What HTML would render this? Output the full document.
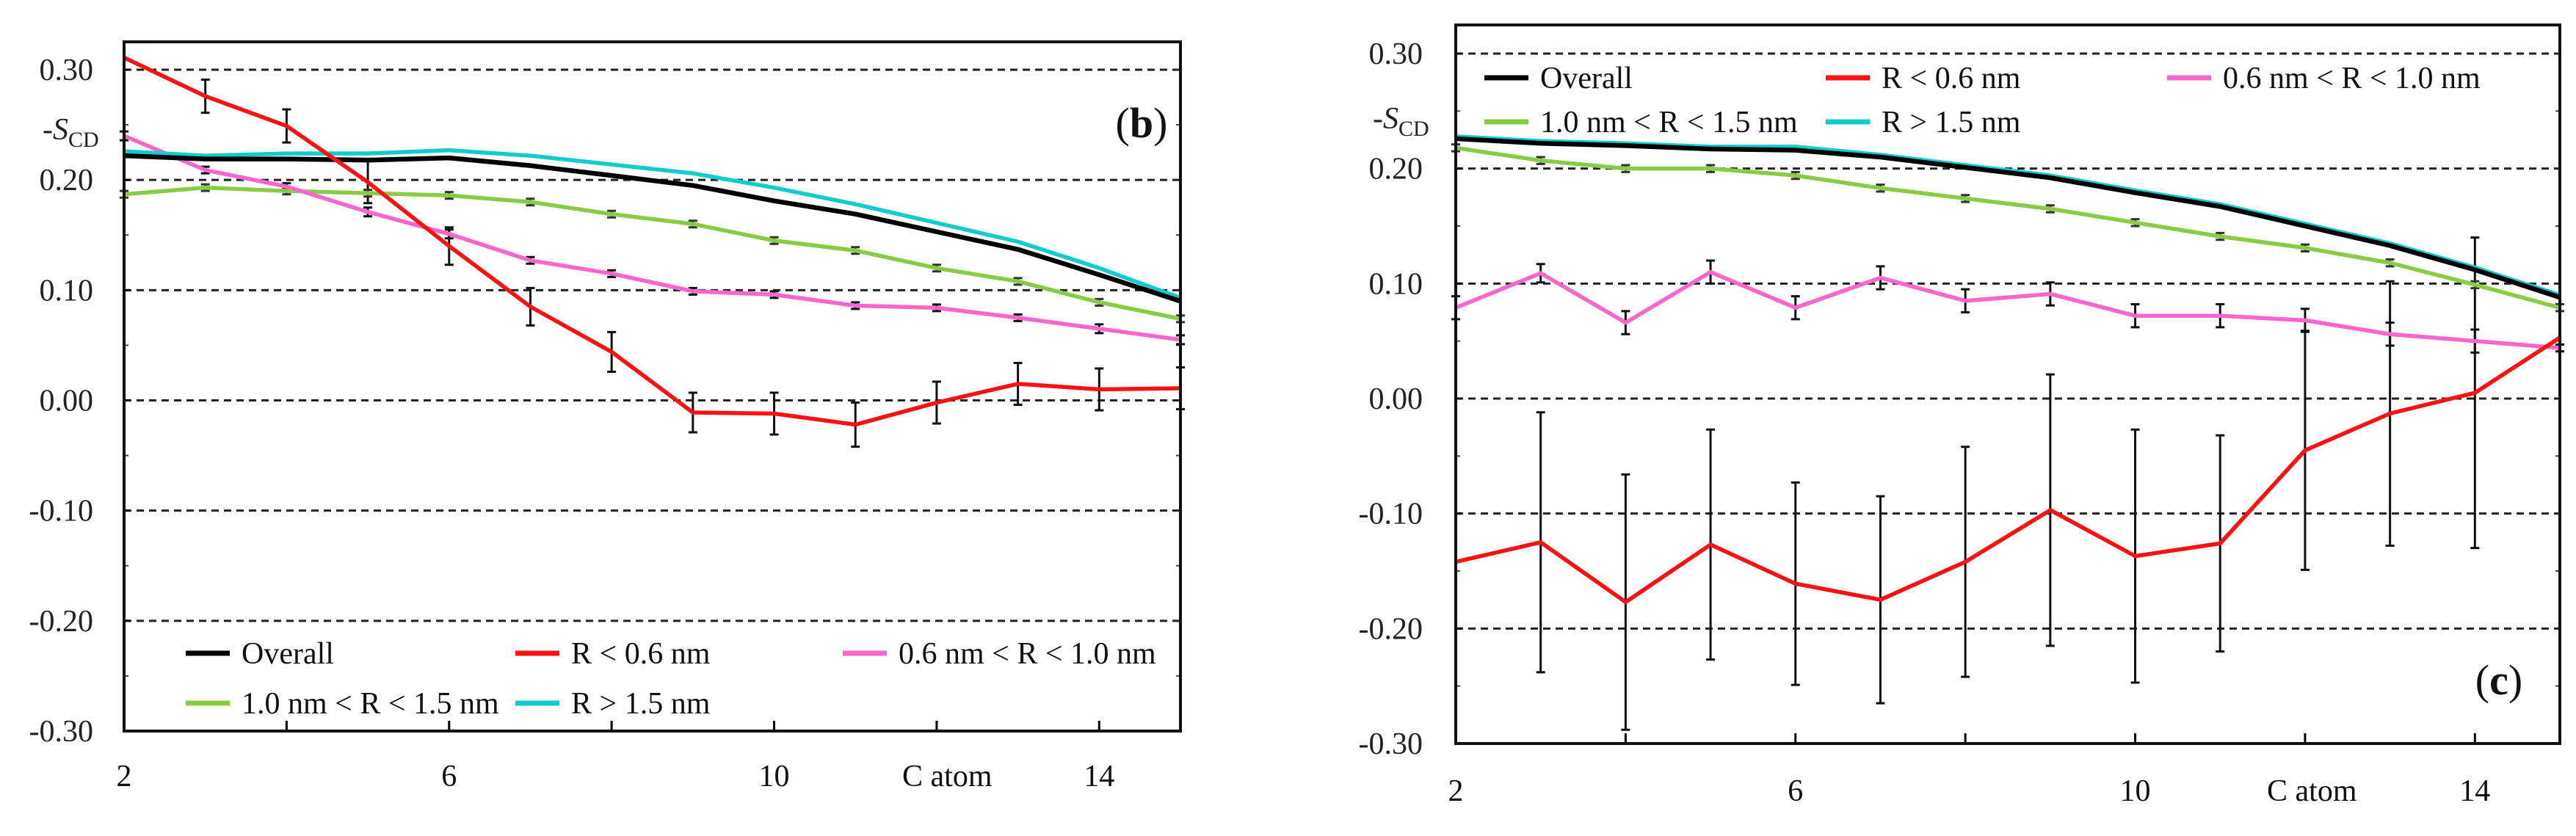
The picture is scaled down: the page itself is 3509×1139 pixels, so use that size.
<!DOCTYPE html>
<html><head><meta charset="utf-8"><style>
html,body{margin:0;padding:0;background:#fff;}
svg{display:block;font-family:"Liberation Serif",serif;}
</style></head><body>
<svg id="fig" width="3509" height="1139" viewBox="0 0 3509 1139" xmlns="http://www.w3.org/2000/svg"></svg>
<script>
const carbons = [2,3,4,5,6,7,8,9,10,11,12,13,14,15];
const yTicks = [0.30,0.20,0.10,0.00,-0.10,-0.20,-0.30];
const yTickLabels = ["0.30","0.20","0.10","0.00","-0.10","-0.20","-0.30"];
const xTicks = [2,6,10,14];
const xTickLabels = ["2","6","10","14"];
const seriesNames = ["Overall","R < 0.6 nm","0.6 nm < R < 1.0 nm","1.0 nm < R < 1.5 nm","R > 1.5 nm"];

// Panel (b)
const bOverall = [0.222,0.219,0.219,0.218,0.220,0.213,0.204,0.195,0.181,0.169,0.153,0.137,0.114,0.090];
const bR06 = [0.311,0.276,0.249,0.198,0.140,0.085,0.044,-0.011,-0.012,-0.022,-0.002,0.015,0.010,0.011];
const bR06err = [0,0.015,0.015,0.019,0.017,0.017,0.018,0.018,0.019,0.020,0.019,0.019,0.019,0.019];
const bR0610 = [0.240,0.209,0.194,0.171,0.151,0.127,0.115,0.099,0.096,0.086,0.084,0.075,0.065,0.055];
const bR0610err = [0.004,0.003,0.003,0.004,0.004,0.003,0.003,0.003,0.003,0.003,0.003,0.003,0.004,0.004];
const bR1015 = [0.187,0.193,0.190,0.188,0.186,0.180,0.169,0.160,0.145,0.136,0.120,0.108,0.089,0.074];
const bR15 = [0.226,0.222,0.224,0.224,0.227,0.222,0.214,0.206,0.193,0.178,0.161,0.144,0.120,0.093];
const bSmallErr = [0.003,0.003,0.003,0.003,0.003,0.003,0.003,0.003,0.003,0.003,0.003,0.003,0.003,0.003];

// Panel (c)
const cOverall = [0.226,0.222,0.220,0.217,0.216,0.210,0.201,0.192,0.179,0.167,0.150,0.133,0.112,0.088];
const cR06 = [-0.142,-0.125,-0.177,-0.127,-0.161,-0.175,-0.142,-0.097,-0.137,-0.126,-0.045,-0.013,0.005,0.053];
const cR06err = [0,0.113,0.111,0.100,0.088,0.090,0.100,0.118,0.110,0.094,0.104,0.115,0.135,0];
const cR0610 = [0.079,0.109,0.066,0.110,0.079,0.105,0.085,0.091,0.072,0.072,0.068,0.056,0.050,0.044];
const cR0610err = [0.010,0.008,0.010,0.010,0.010,0.010,0.010,0.010,0.010,0.010,0.010,0.010,0.010,0.003];
const cR1015 = [0.218,0.207,0.200,0.200,0.194,0.183,0.174,0.165,0.153,0.141,0.131,0.118,0.099,0.079];
const cR15 = [0.228,0.224,0.222,0.219,0.219,0.212,0.203,0.194,0.181,0.169,0.152,0.135,0.114,0.090];

const NS="http://www.w3.org/2000/svg";
const svg=document.getElementById('fig');
function mk(tag,attrs,parent){const e=document.createElementNS(NS,tag);for(const k in attrs)e.setAttribute(k,attrs[k]);(parent||svg).appendChild(e);return e;}

const colors=["#000000","#ff1111","#ff66cc","#88cc44","#11cccc"];

function panel(cfg){
  const g=mk('g',{});
  
  
  const X=v=>cfg.x0+(v-2)*(cfg.x1-cfg.x0)/13;
  const Y=v=>cfg.y30+(0.30-v)*(cfg.ybot-cfg.y30)/0.6;
  yTicks.forEach((t,i)=>{
    if(i<yTicks.length-1){
      const l=mk('line',{x1:cfg.x0,x2:cfg.x1,y1:Y(t),y2:Y(t),stroke:'#222','stroke-width':3,'stroke-dasharray':'10 7'},g);
      
      
    }
    const tx=mk('text',{x:cfg.labR,y:Y(t)+14,'font-size':42,'text-anchor':'end',fill:'#222'},g);
    tx.textContent=yTickLabels[i];
    
    
    mk('line',{x1:cfg.x0,x2:cfg.x0+8,y1:Y(t),y2:Y(t),stroke:'#000','stroke-width':3},g);
    if(i<yTicks.length-1){mk('line',{x1:cfg.x0,x2:cfg.x0+6,y1:Y(t-0.05),y2:Y(t-0.05),stroke:'#444','stroke-width':2},g);
      mk('line',{x1:cfg.x1,x2:cfg.x1-6,y1:Y(t-0.05),y2:Y(t-0.05),stroke:'#444','stroke-width':2},g);}
  });
  for(let c=4;c<=14;c+=2){mk('line',{x1:X(c),x2:X(c),y1:cfg.ybot,y2:cfg.ybot-14,stroke:'#000','stroke-width':3},g);}
  xTicks.forEach((t,i)=>{
    const tx=mk('text',{x:X(t),y:cfg.xlabY,'font-size':42,'text-anchor':'middle',fill:'#111'},g);
    tx.textContent=xTickLabels[i];
    
    
  });
  const xt=mk('text',{x:cfg.catomX,y:cfg.xlabY,'font-size':42,fill:'#111'},g);
  xt.textContent='C atom';
  
  
  const yt=mk('text',{x:cfg.sX,y:cfg.sY,'font-size':42,fill:'#222'},g);
  yt.innerHTML='-<tspan font-style="italic">S</tspan><tspan font-size="30" dy="10">CD</tspan>';
  
  
  const data=[cfg.overall,cfg.r06,cfg.r0610,cfg.r1015,cfg.r15];
  const order=[3,2,4,0,1];
  function ebars(vals,errs,col){
    vals.forEach((v,i)=>{ if(!errs[i]) return;
      const x=X(carbons[i]);
      const e=mk('path',{d:`M${x},${Y(v+errs[i])}V${Y(v-errs[i])}M${x-6},${Y(v+errs[i])}h12M${x-6},${Y(v-errs[i])}h12`,stroke:col,'stroke-width':3,fill:'none'},g);
      
      
    });
  }
  ebars(cfg.r06,cfg.r06err,'#111');
  ebars(cfg.r0610,cfg.r0610err,'#111');
  ebars(cfg.r1015,bSmallErr,'#333');
  order.forEach(k=>{
    const p=mk('polyline',{points:data[k].map((v,i)=>X(carbons[i])+','+Y(v)).join(' '),fill:'none',stroke:colors[k],'stroke-width':k===0?6.5:5.5,'stroke-linejoin':'round'},g);
    
    
  });
  const fr=mk('rect',{x:cfg.x0,y:cfg.top,width:cfg.x1-cfg.x0,height:cfg.ybot-cfg.top,fill:'none',stroke:'#111','stroke-width':4},g);
  
  
  cfg.legend.forEach((L,k)=>{
    const lg=mk('g',{},g);
    
    
    mk('line',{x1:L[0],x2:L[0]+60,y1:L[1],y2:L[1],stroke:colors[k],'stroke-width':7},lg);
    const t=mk('text',{x:L[0]+76,y:L[1]+14,'font-size':42,fill:'#111'},lg);
    t.textContent=seriesNames[k];
  });
  const pl=mk('text',{x:cfg.plX,y:cfg.plY,'font-size':58,'text-anchor':'middle',fill:'#111'},g);
  pl.innerHTML='(<tspan font-weight="bold">'+cfg.plabel+'</tspan>)';
  
  
}

panel({name:'panel-b',x0:169,x1:1608,top:57,y30:95,ybot:996,labR:127,xlabY:1071,catomX:1229,sX:58,sY:190,
  overall:bOverall,r06:bR06,r06err:bR06err,r0610:bR0610,r0610err:bR0610err,r1015:bR1015,r15:bR15,
  legend:[[253,890],[702,890],[1148,890],[253,958],[702,958]],plX:1555,plY:187,plabel:'b'});
panel({name:'panel-c',x0:1983,x1:3487,top:34,y30:73,ybot:1013,labR:1938,xlabY:1091,catomX:3088,sX:1870,sY:175,
  overall:cOverall,r06:cR06,r06err:cR06err,r0610:cR0610,r0610err:cR0610err,r1015:cR1015,r15:cR15,
  legend:[[2022,106],[2487,106],[2952,106],[2022,166],[2487,166]],plX:3404,plY:946,plabel:'c'});
</script>
</body></html>
